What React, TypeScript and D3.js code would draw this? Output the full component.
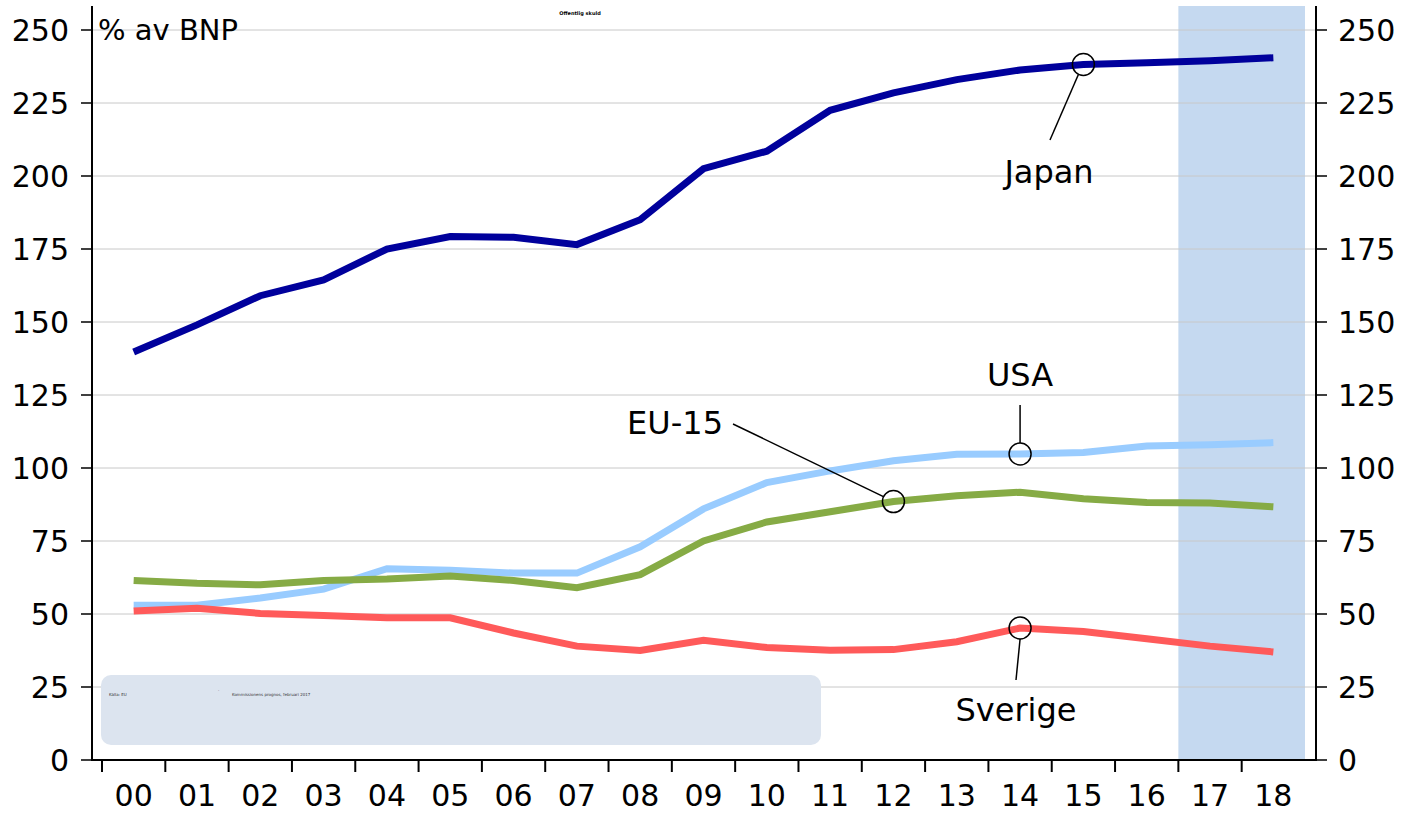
import React, { useEffect, useRef } from "react";
import * as d3 from "d3";

const years = ["00", "01", "02", "03", "04", "05", "06", "07", "08", "09", "10", "11", "12", "13", "14", "15", "16", "17", "18"];
const japan = [139.7, 149, 159, 164.4, 175, 179.3, 179, 176.5, 185, 202.5, 208.5, 222.5, 228.5, 233, 236.3, 238.2, 238.8, 239.5, 240.5];
const usa = [53, 53, 55.5, 58.5, 65.5, 65, 64, 64, 73, 86, 95, 99, 102.5, 104.7, 104.8, 105.3, 107.5, 108, 108.7];
const eu15 = [61.5, 60.5, 60, 61.5, 62, 63, 61.5, 59, 63.5, 75, 81.5, 85, 88.5, 90.5, 91.7, 89.5, 88.2, 88, 86.7];
const sverige = [51, 52, 50.2, 49.5, 48.7, 48.7, 43.5, 39, 37.5, 41, 38.5, 37.6, 37.8, 40.5, 45.2, 44, 41.5, 39, 37];
const yTicks = [0, 25, 50, 75, 100, 125, 150, 175, 200, 225, 250];
const forecastYears = ["17", "18"];

const series = [
  { name: "Japan", values: japan, color: "#00009c" },
  { name: "USA", values: usa, color: "#99ccff" },
  { name: "EU-15", values: eu15, color: "#86ab45" },
  { name: "Sverige", values: sverige, color: "#ff5a5a" },
];

const App = () => {
  const ref = useRef<SVGSVGElement>(null);

  useEffect(() => {
    const svg = d3.select(ref.current);
    svg.selectAll("*").remove();
    const font = "'DejaVu Sans', sans-serif";
    const left = 92, right = 1316, bottom = 760, top = 6;

    const x = d3.scaleBand().domain(years).range([102, 1305]).padding(0);
    const y = d3.scaleLinear().domain([0, 250]).range([bottom, 30]);
    const cx = (yr: string) => (x(yr) as number) + x.bandwidth() / 2;

    // forecast band
    svg.append("rect")
      .attr("x", x(forecastYears[0]) as number)
      .attr("y", top)
      .attr("width", x.bandwidth() * forecastYears.length)
      .attr("height", bottom - top)
      .attr("fill", "#c5d9f0");

    // grid
    svg.append("g").selectAll("line").data(yTicks.filter((d) => d > 0)).enter().append("line")
      .attr("x1", left).attr("x2", right)
      .attr("y1", (d) => y(d)).attr("y2", (d) => y(d))
      .attr("stroke", "#c8c8c8").attr("stroke-width", 1);

    // source box
    svg.append("rect")
      .attr("x", 101).attr("y", 675).attr("width", 720).attr("height", 70)
      .attr("rx", 10).attr("fill", "#dce4ef");
    svg.append("text").attr("x", 109).attr("y", 696).attr("font-size", 4).attr("font-family", font)
      .attr("fill", "#333").text("Källa: EU");
    svg.append("text").attr("x", 218).attr("y", 692).attr("font-size", 4).attr("font-family", font)
      .attr("fill", "#333").text("·");
    svg.append("text").attr("x", 232).attr("y", 696).attr("font-size", 4).attr("font-family", font)
      .attr("fill", "#333").text("Kommissionens prognos, februari 2017");

    // title
    svg.append("text").attr("x", 580).attr("y", 15).attr("text-anchor", "middle")
      .attr("font-size", 5).attr("font-weight", "bold").attr("font-family", font)
      .text("Offentlig skuld");

    // lines
    const line = d3.line<number>()
      .x((_, i) => cx(years[i]))
      .y((d) => y(d));
    series.forEach((s) => {
      svg.append("path")
        .datum(s.values)
        .attr("d", line)
        .attr("fill", "none")
        .attr("stroke", s.color)
        .attr("stroke-width", 7);
    });

    // axes
    const axisG = svg.append("g").attr("font-family", font).attr("font-size", 30);
    axisG.append("line").attr("x1", left).attr("x2", left).attr("y1", top).attr("y2", bottom + 1).attr("stroke", "#000").attr("stroke-width", 2);
    axisG.append("line").attr("x1", right).attr("x2", right).attr("y1", top).attr("y2", bottom + 1).attr("stroke", "#000").attr("stroke-width", 2);
    axisG.append("line").attr("x1", left).attr("x2", right).attr("y1", bottom).attr("y2", bottom).attr("stroke", "#000").attr("stroke-width", 2);

    yTicks.forEach((t) => {
      axisG.append("line").attr("x1", left - 11).attr("x2", left).attr("y1", y(t)).attr("y2", y(t)).attr("stroke", "#000").attr("stroke-width", 1.5);
      axisG.append("line").attr("x1", right).attr("x2", right + 11).attr("y1", y(t)).attr("y2", y(t)).attr("stroke", "#000").attr("stroke-width", 1.5);
      axisG.append("text").attr("x", 69).attr("y", y(t)).attr("dy", "0.36em").attr("text-anchor", "end").text(t);
      axisG.append("text").attr("x", 1338).attr("y", y(t)).attr("dy", "0.36em").attr("text-anchor", "start").text(t);
    });

    years.forEach((yr) => {
      axisG.append("line").attr("x1", x(yr) as number).attr("x2", x(yr) as number)
        .attr("y1", bottom).attr("y2", bottom + 12).attr("stroke", "#000").attr("stroke-width", 2);
      axisG.append("text").attr("x", cx(yr)).attr("y", 806).attr("text-anchor", "middle").text(yr);
    });

    axisG.append("text").attr("x", 98).attr("y", 40).attr("font-size", 29).text("% av BNP");

    // annotations
    const ann = svg.append("g").attr("font-family", font).attr("font-size", 32);
    const circle = (yr: string, v: number) => {
      ann.append("circle").attr("cx", cx(yr)).attr("cy", y(v)).attr("r", 11)
        .attr("fill", "none").attr("stroke", "#000").attr("stroke-width", 1.5);
    };
    const leader = (x1: number, y1: number, x2: number, y2: number) => {
      ann.append("line").attr("x1", x1).attr("y1", y1).attr("x2", x2).attr("y2", y2)
        .attr("stroke", "#000").attr("stroke-width", 1.5);
    };

    circle("15", japan[15]);
    leader(cx("15") - 5, y(japan[15]) + 10, 1050, 140);
    ann.append("text").attr("x", 1049).attr("y", 183).attr("text-anchor", "middle").text("Japan");

    circle("14", usa[14]);
    leader(cx("14"), y(usa[14]) - 11, cx("14"), 405);
    ann.append("text").attr("x", 1020).attr("y", 386).attr("text-anchor", "middle").text("USA");

    circle("12", eu15[12]);
    leader(cx("12") - 10, y(eu15[12]) - 5, 733, 424);
    ann.append("text").attr("x", 723).attr("y", 434).attr("text-anchor", "end").text("EU-15");

    circle("14", sverige[14]);
    leader(cx("14"), y(sverige[14]) + 11, 1016, 680);
    ann.append("text").attr("x", 1016).attr("y", 721).attr("text-anchor", "middle").text("Sverige");
  }, []);

  return (
    <svg
      ref={ref}
      width={1405}
      height={816}
      style={{ position: "absolute", left: 0, top: 0, background: "#fff" }}
    />
  );
};

export default App;
